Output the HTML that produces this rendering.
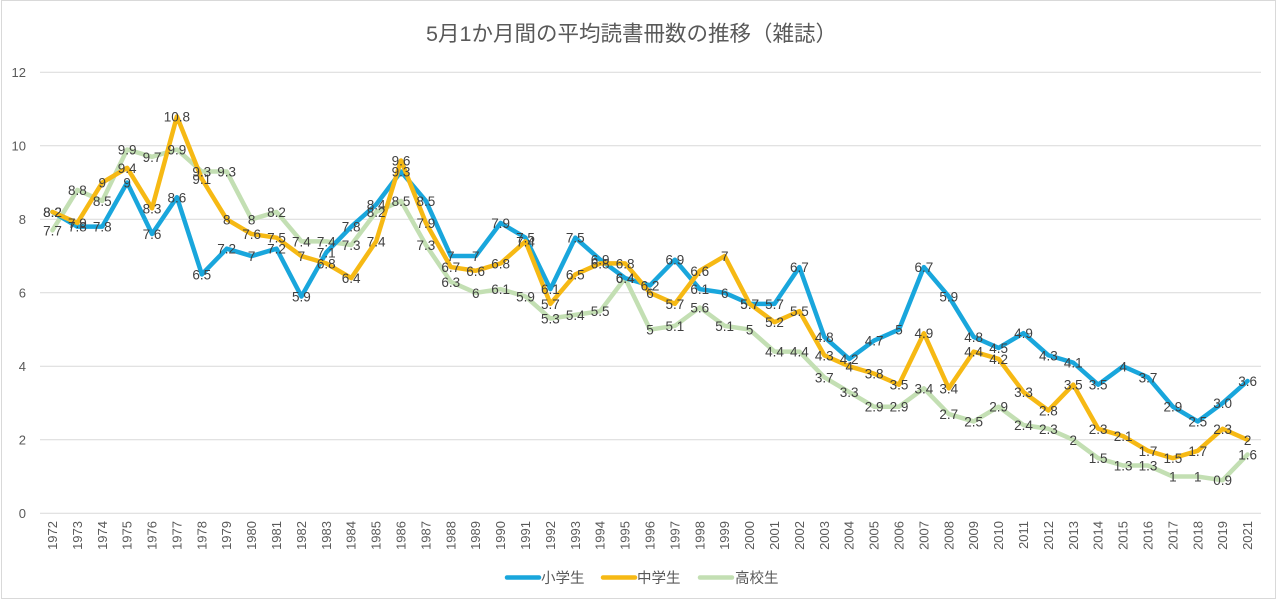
<!DOCTYPE html>
<html><head><meta charset="utf-8"><style>
html,body{margin:0;padding:0;background:#fff;}
svg{display:block;}
.t{font-family:"Liberation Sans","Noto Sans CJK JP",sans-serif;}
.lb text{font-family:"Liberation Sans",sans-serif;font-size:13.5px;fill:#404040;text-anchor:middle;}
.xl text{font-family:"Liberation Sans",sans-serif;font-size:13px;fill:#595959;text-anchor:end;}
.yl text{font-family:"Liberation Sans",sans-serif;font-size:13px;fill:#595959;text-anchor:end;}
</style></head><body>
<svg width="1280" height="602" viewBox="0 0 1280 602" xmlns="http://www.w3.org/2000/svg">
<rect x="0" y="0" width="1280" height="602" fill="#fff"/>
<rect x="1.5" y="0.5" width="1274" height="598" fill="none" stroke="#d9d9d9" stroke-width="1"/>
<text class="t" x="631.5" y="41" text-anchor="middle" font-size="21.5" fill="#595959">5月1か月間の平均読書冊数の推移（雑誌）</text>
<g stroke="#d9d9d9" stroke-width="1">
<line x1="40" y1="513.3" x2="1261" y2="513.3"/>
<line x1="40" y1="439.8" x2="1261" y2="439.8"/>
<line x1="40" y1="366.3" x2="1261" y2="366.3"/>
<line x1="40" y1="292.8" x2="1261" y2="292.8"/>
<line x1="40" y1="219.3" x2="1261" y2="219.3"/>
<line x1="40" y1="145.8" x2="1261" y2="145.8"/>
<line x1="40" y1="72.3" x2="1261" y2="72.3"/>
</g>
<g class="yl">
<text x="26" y="518">0</text>
<text x="26" y="444.5">2</text>
<text x="26" y="371">4</text>
<text x="26" y="297.5">6</text>
<text x="26" y="224">8</text>
<text x="26" y="150.5">10</text>
<text x="26" y="77">12</text>
</g>
<g class="xl">
<text transform="translate(57,521) rotate(-90)">1972</text>
<text transform="translate(81.9,521) rotate(-90)">1973</text>
<text transform="translate(106.8,521) rotate(-90)">1974</text>
<text transform="translate(131.6,521) rotate(-90)">1975</text>
<text transform="translate(156.5,521) rotate(-90)">1976</text>
<text transform="translate(181.4,521) rotate(-90)">1977</text>
<text transform="translate(206.3,521) rotate(-90)">1978</text>
<text transform="translate(231.2,521) rotate(-90)">1979</text>
<text transform="translate(256.1,521) rotate(-90)">1980</text>
<text transform="translate(281,521) rotate(-90)">1981</text>
<text transform="translate(305.9,521) rotate(-90)">1982</text>
<text transform="translate(330.8,521) rotate(-90)">1983</text>
<text transform="translate(355.7,521) rotate(-90)">1984</text>
<text transform="translate(380.6,521) rotate(-90)">1985</text>
<text transform="translate(405.5,521) rotate(-90)">1986</text>
<text transform="translate(430.4,521) rotate(-90)">1987</text>
<text transform="translate(455.3,521) rotate(-90)">1988</text>
<text transform="translate(480.2,521) rotate(-90)">1989</text>
<text transform="translate(505.1,521) rotate(-90)">1990</text>
<text transform="translate(530,521) rotate(-90)">1991</text>
<text transform="translate(554.9,521) rotate(-90)">1992</text>
<text transform="translate(579.8,521) rotate(-90)">1993</text>
<text transform="translate(604.7,521) rotate(-90)">1994</text>
<text transform="translate(629.6,521) rotate(-90)">1995</text>
<text transform="translate(654.5,521) rotate(-90)">1996</text>
<text transform="translate(679.4,521) rotate(-90)">1997</text>
<text transform="translate(704.3,521) rotate(-90)">1998</text>
<text transform="translate(729.2,521) rotate(-90)">1999</text>
<text transform="translate(754.1,521) rotate(-90)">2000</text>
<text transform="translate(779,521) rotate(-90)">2001</text>
<text transform="translate(803.9,521) rotate(-90)">2002</text>
<text transform="translate(828.8,521) rotate(-90)">2003</text>
<text transform="translate(853.7,521) rotate(-90)">2004</text>
<text transform="translate(878.6,521) rotate(-90)">2005</text>
<text transform="translate(903.5,521) rotate(-90)">2006</text>
<text transform="translate(928.4,521) rotate(-90)">2007</text>
<text transform="translate(953.3,521) rotate(-90)">2008</text>
<text transform="translate(978.2,521) rotate(-90)">2009</text>
<text transform="translate(1003.1,521) rotate(-90)">2010</text>
<text transform="translate(1028,521) rotate(-90)">2011</text>
<text transform="translate(1052.9,521) rotate(-90)">2012</text>
<text transform="translate(1077.8,521) rotate(-90)">2013</text>
<text transform="translate(1102.7,521) rotate(-90)">2014</text>
<text transform="translate(1127.6,521) rotate(-90)">2015</text>
<text transform="translate(1152.5,521) rotate(-90)">2016</text>
<text transform="translate(1177.4,521) rotate(-90)">2017</text>
<text transform="translate(1202.3,521) rotate(-90)">2018</text>
<text transform="translate(1227.2,521) rotate(-90)">2019</text>
<text transform="translate(1252.1,521) rotate(-90)">2021</text>
</g>
<g transform="translate(52.45,513.3) scale(24.898,-36.75)" fill="none" stroke-linejoin="round" stroke-linecap="round">
<polyline vector-effect="non-scaling-stroke" stroke="#c3dfb3" stroke-width="4.5" points="0,7.7 1,8.8 2,8.5 3,9.9 4,9.7 5,9.9 6,9.3 7,9.3 8,8 9,8.2 10,7.4 11,7.4 12,7.3 13,8.2 14,8.5 15,7.3 16,6.3 17,6 18,6.1 19,5.9 20,5.3 21,5.4 22,5.5 23,6.4 24,5 25,5.1 26,5.6 27,5.1 28,5 29,4.4 30,4.4 31,3.7 32,3.3 33,2.9 34,2.9 35,3.4 36,2.7 37,2.5 38,2.9 39,2.4 40,2.3 41,2 42,1.5 43,1.3 44,1.3 45,1 46,1 47,0.9 48,1.6"/>
<polyline vector-effect="non-scaling-stroke" stroke="#19a6dc" stroke-width="4.5" points="0,8.2 1,7.8 2,7.8 3,9 4,7.6 5,8.6 6,6.5 7,7.2 8,7 9,7.2 10,5.9 11,7.1 12,7.8 13,8.4 14,9.3 15,8.5 16,7 17,7 18,7.9 19,7.5 20,6.1 21,7.5 22,6.9 23,6.4 24,6.2 25,6.9 26,6.1 27,6 28,5.7 29,5.7 30,6.7 31,4.8 32,4.2 33,4.7 34,5 35,6.7 36,5.9 37,4.8 38,4.5 39,4.9 40,4.3 41,4.1 42,3.5 43,4 44,3.7 45,2.9 46,2.5 47,3.0 48,3.6"/>
<polyline vector-effect="non-scaling-stroke" stroke="#f6b914" stroke-width="4.5" points="0,8.2 1,7.9 2,9 3,9.4 4,8.3 5,10.8 6,9.1 7,8 8,7.6 9,7.5 10,7 11,6.8 12,6.4 13,7.4 14,9.6 15,7.9 16,6.7 17,6.6 18,6.8 19,7.4 20,5.7 21,6.5 22,6.8 23,6.8 24,6 25,5.7 26,6.6 27,7 28,5.7 29,5.2 30,5.5 31,4.3 32,4 33,3.8 34,3.5 35,4.9 36,3.4 37,4.4 38,4.2 39,3.3 40,2.8 41,3.5 42,2.3 43,2.1 44,1.7 45,1.5 46,1.7 47,2.3 48,2"/>
</g>
<g class="lb">
<!-- blue -->
<text x="52.5" y="217.0">8.2</text>
<text x="77.4" y="231.7">7.8</text>
<text x="102.3" y="231.7">7.8</text>
<text x="127.1" y="187.6">9</text>
<text x="152.0" y="239.0">7.6</text>
<text x="176.9" y="202.3">8.6</text>
<text x="201.8" y="279.4">6.5</text>
<text x="226.7" y="253.7">7.2</text>
<text x="251.6" y="261.1">7</text>
<text x="276.5" y="253.7">7.2</text>
<text x="301.4" y="301.5">5.9</text>
<text x="326.3" y="257.4">7.1</text>
<text x="351.2" y="231.7">7.8</text>
<text x="376.1" y="209.6">8.4</text>
<text x="401.0" y="176.5">9.3</text>
<text x="425.9" y="205.9">8.5</text>
<text x="450.8" y="261.1">7</text>
<text x="475.7" y="261.1">7</text>
<text x="500.6" y="228.0">7.9</text>
<text x="525.5" y="242.7">7.5</text>
<text x="550.4" y="294.1">6.1</text>
<text x="575.3" y="242.7">7.5</text>
<text x="600.2" y="264.7">6.9</text>
<text x="625.1" y="283.1">6.4</text>
<text x="650.0" y="290.5">6.2</text>
<text x="674.9" y="264.7">6.9</text>
<text x="699.8" y="294.1">6.1</text>
<text x="724.7" y="297.8">6</text>
<text x="749.6" y="308.8">5.7</text>
<text x="774.5" y="308.8">5.7</text>
<text x="799.4" y="272.1">6.7</text>
<text x="824.3" y="341.9">4.8</text>
<text x="849.2" y="364.0">4.2</text>
<text x="874.1" y="345.6">4.7</text>
<text x="899.0" y="334.6">5</text>
<text x="923.9" y="272.1">6.7</text>
<text x="948.8" y="301.5">5.9</text>
<text x="973.7" y="341.9">4.8</text>
<text x="998.6" y="352.9">4.5</text>
<text x="1023.5" y="338.2">4.9</text>
<text x="1048.4" y="360.3">4.3</text>
<text x="1073.3" y="367.6">4.1</text>
<text x="1098.2" y="389.7">3.5</text>
<text x="1123.1" y="371.3">4</text>
<text x="1148.0" y="382.3">3.7</text>
<text x="1172.9" y="411.7">2.9</text>
<text x="1197.8" y="426.4">2.5</text>
<text x="1222.7" y="408.1">3.0</text>
<text x="1247.6" y="386.0">3.6</text>
<!-- yellow -->
<text x="52.5" y="217.0">8.2</text>
<text x="77.4" y="228.0">7.9</text>
<text x="102.3" y="187.6">9</text>
<text x="127.1" y="172.9">9.4</text>
<text x="152.0" y="213.3">8.3</text>
<text x="176.9" y="121.4">10.8</text>
<text x="201.8" y="183.9">9.1</text>
<text x="226.7" y="224.3">8</text>
<text x="251.6" y="239.0">7.6</text>
<text x="276.5" y="242.7">7.5</text>
<text x="301.4" y="261.1">7</text>
<text x="326.3" y="268.4">6.8</text>
<text x="351.2" y="283.1">6.4</text>
<text x="376.1" y="246.4">7.4</text>
<text x="401.0" y="165.5">9.6</text>
<text x="425.9" y="228.0">7.9</text>
<text x="450.8" y="272.1">6.7</text>
<text x="475.7" y="275.8">6.6</text>
<text x="500.6" y="268.4">6.8</text>
<text x="525.5" y="246.4">7.4</text>
<text x="550.4" y="308.8">5.7</text>
<text x="575.3" y="279.4">6.5</text>
<text x="600.2" y="268.4">6.8</text>
<text x="625.1" y="268.4">6.8</text>
<text x="650.0" y="297.8">6</text>
<text x="674.9" y="308.8">5.7</text>
<text x="699.8" y="275.8">6.6</text>
<text x="724.7" y="261.1">7</text>
<text x="749.6" y="308.8">5.7</text>
<text x="774.5" y="327.2">5.2</text>
<text x="799.4" y="316.2">5.5</text>
<text x="824.3" y="360.3">4.3</text>
<text x="849.2" y="371.3">4</text>
<text x="874.1" y="378.7">3.8</text>
<text x="899.0" y="389.7">3.5</text>
<text x="923.9" y="338.2">4.9</text>
<text x="948.8" y="393.4">3.4</text>
<text x="973.7" y="356.6">4.4</text>
<text x="998.6" y="364.0">4.2</text>
<text x="1023.5" y="397.0">3.3</text>
<text x="1048.4" y="415.4">2.8</text>
<text x="1073.3" y="389.7">3.5</text>
<text x="1098.2" y="433.8">2.3</text>
<text x="1123.1" y="441.1">2.1</text>
<text x="1148.0" y="455.8">1.7</text>
<text x="1172.9" y="463.2">1.5</text>
<text x="1197.8" y="455.8">1.7</text>
<text x="1222.7" y="433.8">2.3</text>
<text x="1247.6" y="444.8">2</text>
<!-- green -->
<text x="52.5" y="235.3">7.7</text>
<text x="77.4" y="194.9">8.8</text>
<text x="102.3" y="205.9">8.5</text>
<text x="127.1" y="154.5">9.9</text>
<text x="152.0" y="161.8">9.7</text>
<text x="176.9" y="154.5">9.9</text>
<text x="201.8" y="176.5">9.3</text>
<text x="226.7" y="176.5">9.3</text>
<text x="251.6" y="224.3">8</text>
<text x="276.5" y="217.0">8.2</text>
<text x="301.4" y="246.4">7.4</text>
<text x="326.3" y="246.4">7.4</text>
<text x="351.2" y="250.0">7.3</text>
<text x="376.1" y="217.0">8.2</text>
<text x="401.0" y="205.9">8.5</text>
<text x="425.9" y="250.0">7.3</text>
<text x="450.8" y="286.8">6.3</text>
<text x="475.7" y="297.8">6</text>
<text x="500.6" y="294.1">6.1</text>
<text x="525.5" y="301.5">5.9</text>
<text x="550.4" y="323.5">5.3</text>
<text x="575.3" y="319.9">5.4</text>
<text x="600.2" y="316.2">5.5</text>
<text x="625.1" y="283.1">6.4</text>
<text x="650.0" y="334.6">5</text>
<text x="674.9" y="330.9">5.1</text>
<text x="699.8" y="312.5">5.6</text>
<text x="724.7" y="330.9">5.1</text>
<text x="749.6" y="334.6">5</text>
<text x="774.5" y="356.6">4.4</text>
<text x="799.4" y="356.6">4.4</text>
<text x="824.3" y="382.3">3.7</text>
<text x="849.2" y="397.0">3.3</text>
<text x="874.1" y="411.7">2.9</text>
<text x="899.0" y="411.7">2.9</text>
<text x="923.9" y="393.4">3.4</text>
<text x="948.8" y="419.1">2.7</text>
<text x="973.7" y="426.4">2.5</text>
<text x="998.6" y="411.7">2.9</text>
<text x="1023.5" y="430.1">2.4</text>
<text x="1048.4" y="433.8">2.3</text>
<text x="1073.3" y="444.8">2</text>
<text x="1098.2" y="463.2">1.5</text>
<text x="1123.1" y="470.5">1.3</text>
<text x="1148.0" y="470.5">1.3</text>
<text x="1172.9" y="481.6">1</text>
<text x="1197.8" y="481.6">1</text>
<text x="1222.7" y="485.2">0.9</text>
<text x="1247.6" y="459.5">1.6</text>
</g>
<g stroke-width="4.5" stroke-linecap="round">
<line x1="507" y1="577.5" x2="539" y2="577.5" stroke="#19a6dc"/>
<line x1="603" y1="577.5" x2="635" y2="577.5" stroke="#f6b914"/>
<line x1="700" y1="577.5" x2="732" y2="577.5" stroke="#c3dfb3"/>
</g>
<g class="t" font-size="14.5" fill="#595959">
<text x="541" y="583">小学生</text>
<text x="637" y="583">中学生</text>
<text x="735" y="583">高校生</text>
</g>
</svg>
</body></html>
